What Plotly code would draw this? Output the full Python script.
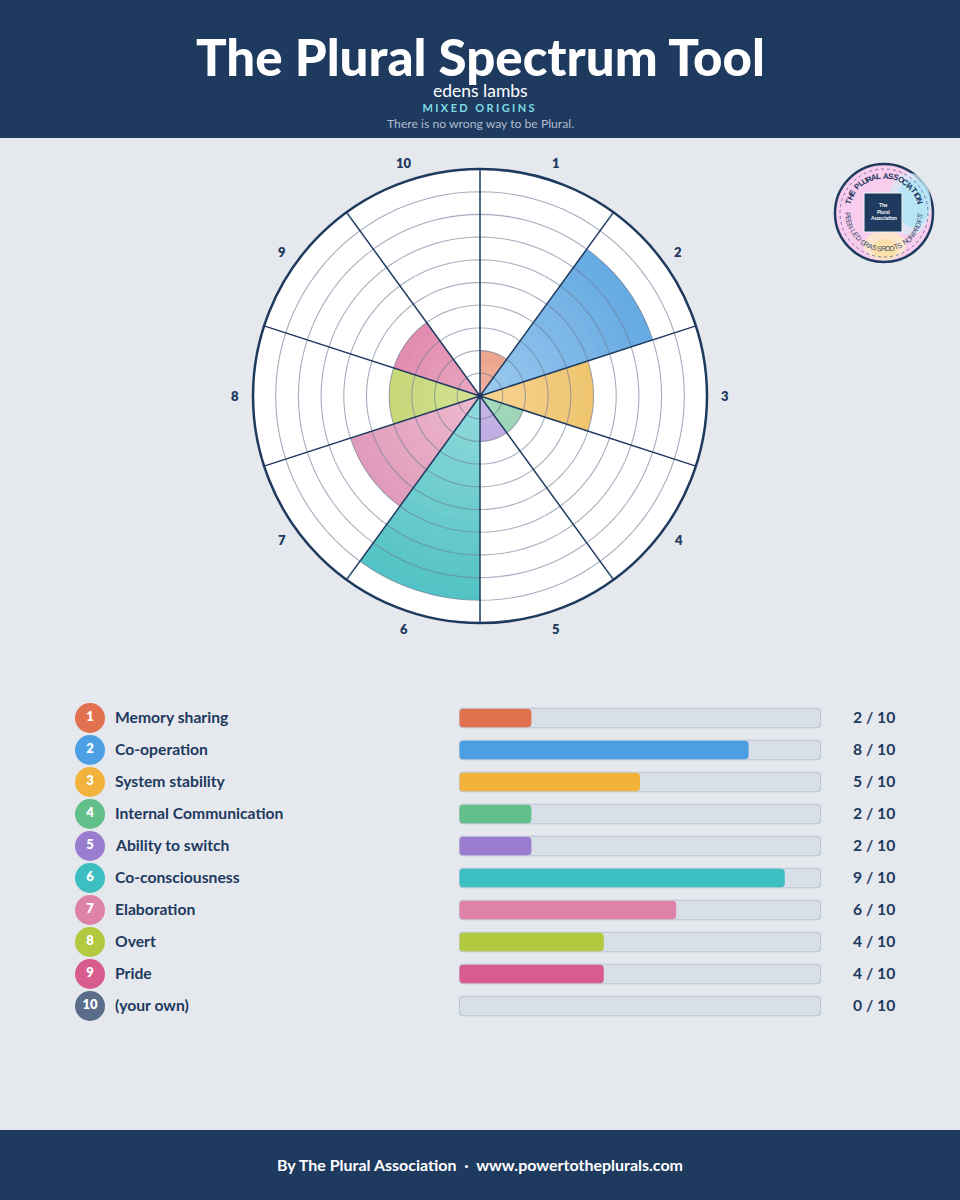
import math

import plotly.graph_objects as go

W, H = 960, 1200
NAVY = "#1E3A5F"
BG = "#E5E8ED"
TRACK = "#D8DFE8"
TRACK_LINE = "#B9C6D6"
RING = "rgba(110,125,150,0.62)"
FONT = "Lato"

# Data
numbers = ["1", "2", "3", "4", "5", "6", "7", "8", "9", "10"]
names = [
    "Memory sharing",
    "Co-operation",
    "System stability",
    "Internal Communication",
    "Ability to switch",
    "Co-consciousness",
    "Elaboration",
    "Overt",
    "Pride",
    "(your own)",
]
scores = [2, 8, 5, 2, 2, 9, 6, 4, 4, 0]
colors = [
    (226, 113, 79),
    (76, 159, 226),
    (242, 179, 61),
    (98, 191, 138),
    (155, 125, 207),
    (61, 191, 193),
    (222, 130, 168),
    (179, 201, 63),
    (217, 92, 143),
    (90, 110, 140),
]
score_max = 10
sector_width = 360 / len(names)
sector_centers = [sector_width * (i + 0.5) for i in range(len(names))]
spoke_angles = [sector_width * i for i in range(len(names))]
ring_values = list(range(1, score_max))
ring_thetas = list(range(0, 361, 3))


def hex_rgb(c):
    return "rgb(%d,%d,%d)" % c


def px_x(x):
    return x / W


def px_y(y):
    return 1 - y / H


def rect(x0, y0, x1, y1, fill, line=None, width=0, kind="rect", opacity=1, dash="solid"):
    return dict(
        type=kind,
        xref="paper",
        yref="paper",
        x0=px_x(x0),
        x1=px_x(x1),
        y0=px_y(y0),
        y1=px_y(y1),
        fillcolor=fill,
        line=dict(color=line or "rgba(0,0,0,0)", width=width, dash=dash),
        opacity=opacity,
        layer="below",
    )


def text(x, y, s, size, color=NAVY, weight=400, anchor="center", family=FONT, angle=0):
    return dict(
        xref="paper",
        yref="paper",
        x=px_x(x),
        y=px_y(y),
        text=s,
        showarrow=False,
        xanchor=anchor,
        yanchor="middle",
        textangle=angle,
        font=dict(family=family, size=size, color=color, weight=weight),
    )


fig = go.Figure()


# alpha wanted at a given radius, the wedge gets darker going out
def wedge_alpha(r):
    return 0.56 + 0.036 * r


# Wedges: nested annuli, each one adds a little colour (strips side by side leave seams)
step = 0.5
depth = 0.0
while depth < max(scores):
    idx = [i for i, s in enumerate(scores) if s > depth]
    if depth == 0:
        a = wedge_alpha(0)
    else:
        a = 1 - (1 - wedge_alpha(depth)) / (1 - wedge_alpha(depth - step))
    fig.add_trace(
        go.Barpolar(
            r=[scores[i] - depth for i in idx],
            base=[depth] * len(idx),
            theta=[sector_centers[i] for i in idx],
            width=[sector_width] * len(idx),
            marker=dict(
                color=["rgba(%d,%d,%d,%.4f)" % (*colors[i], a) for i in idx],
                line=dict(width=0),
            ),
            hoverinfo="skip",
            showlegend=False,
        )
    )
    depth += step

# Rings and spokes sit over the wedges
for v in ring_values:
    fig.add_trace(
        go.Scatterpolar(
            r=[v] * len(ring_thetas),
            theta=ring_thetas,
            mode="lines",
            line=dict(color=RING, width=1.1),
            hoverinfo="skip",
            showlegend=False,
        )
    )
for a in spoke_angles:
    fig.add_trace(
        go.Scatterpolar(
            r=[0, score_max],
            theta=[a, a],
            mode="lines",
            line=dict(color=NAVY, width=1.5),
            hoverinfo="skip",
            showlegend=False,
        )
    )
fig.add_trace(
    go.Scatterpolar(
        r=[0],
        theta=[0],
        mode="markers",
        marker=dict(color=NAVY, size=6),
        hoverinfo="skip",
        showlegend=False,
    )
)

# Bars. A bar given a base gets all four corners rounded
unit_px = (821 - 459) / score_max
edge = 1 / unit_px


def add_pill(start, ends, width, bar_colors):
    keep = [i for i, e in enumerate(ends) if e > start]
    fig.add_trace(
        go.Bar(
            x=[ends[i] - start for i in keep],
            base=[start] * len(keep),
            y=[names[i] for i in keep],
            orientation="h",
            width=width,
            marker=dict(color=[bar_colors[i] for i in keep], line=dict(width=0)),
            hoverinfo="skip",
            showlegend=False,
        )
    )


add_pill(0, [score_max] * len(names), 0.64, [TRACK_LINE] * len(names))
add_pill(edge, [score_max - edge] * len(names), 0.58, [TRACK] * len(names))
add_pill(edge * 0.5, scores, 0.58, [hex_rgb(c) for c in colors])

# Numbered circles in their own narrow axis
fig.add_trace(
    go.Scatter(
        x=[0] * len(names),
        y=names,
        xaxis="x2",
        mode="markers+text",
        marker=dict(color=[hex_rgb(c) for c in colors], size=30),
        text=numbers,
        textposition="middle center",
        textfont=dict(family=FONT, size=13, color="white", weight=800),
        cliponaxis=False,
        hoverinfo="skip",
        showlegend=False,
    )
)

shapes = [
    rect(0, 0, W, 138, NAVY),
    rect(0, 1130, W, H, NAVY),
]
annotations = [
    text(480, 57, "The Plural Spectrum Tool", 51, "white", 900),
    text(480, 91, "edens lambs", 17.5, "white", 400),
    text(479.5, 108, "MIXED ORIGINS", 11, "#7FDDE6", 700),
    text(480, 124, "There is no wrong way to be Plural.", 12.2, "#B0BCCD", 400),
    text(480, 1164, "By The Plural Association  ·  www.powertotheplurals.com", 16, "white", 700),
]

# Sector numbers round the rim (points beyond the radial range get dropped by polar traces)
cx, cy, label_px = 480, 396, 245
for n, deg in zip(numbers, sector_centers):
    t = math.radians(deg)
    annotations.append(text(cx + label_px * math.sin(t), cy - label_px * math.cos(t), n, 13, NAVY, 800))

for name, score in zip(names, scores):
    annotations.append(
        dict(
            xref="paper",
            yref="y",
            x=px_x(113),
            y=name,
            text=name,
            showarrow=False,
            xanchor="left",
            yshift=1,
            font=dict(family=FONT, size=15.7, color=NAVY, weight=700),
        )
    )
    annotations.append(
        dict(
            xref="paper",
            yref="y",
            x=px_x(897),
            y=name,
            text="%d / %d" % (score, score_max),
            showarrow=False,
            xanchor="right",
            yshift=1,
            font=dict(family=FONT, size=15.7, color=NAVY, weight=700),
        )
    )

# Badge in the corner
bx, by, br = 884, 213, 49
shapes += [
    rect(bx - br, by - br, bx + br, by + br, "#F9CDEE", NAVY, 2.5, "circle"),
    rect(bx + 4, by - 40, bx + 47, by + 22, "#D4EEF8", None, 0, "circle", 0.7),
    rect(bx + 12, by - 34, bx + 46, by + 14, "#A6E6F5", None, 0, "circle", 0.7),
    rect(bx - 20, by + 18, bx + 22, by + 47, "#FBEBC4", None, 0, "circle", 0.8),
    rect(bx - 12, by + 26, bx + 14, by + 46, "#FBE0A0", None, 0, "circle", 0.8),
    rect(bx - 44, by - 44, bx + 44, by + 44, "rgba(0,0,0,0)", "#6F6AA8", 0.9, "circle", 1, "dot"),
    rect(bx - 20, by - 20, bx + 18, by + 19, NAVY, "#F2F4F7", 1),
]
for i, s in enumerate(["The", "Plural", "Association"]):
    annotations.append(text(bx - 1, by - 8 + i * 6.5, s, 5, "white", 700))


# Curved badge text: one annotation per letter, spaced by a rough letter width
def char_steps(s):
    narrow = {"I": 0.45, "L": 0.8, " ": 0.55, "-": 0.55, "E": 0.9, "T": 0.9}
    w = [narrow.get(ch, 1.0) for ch in s]
    total = sum(w) - (w[0] + w[-1]) / 2
    out = []
    run = 0.0
    for i in range(len(s)):
        out.append(run / total)
        if i + 1 < len(s):
            run += (w[i] + w[i + 1]) / 2
    return out


top_text = "THE PLURAL ASSOCIATION"
for ch, f in zip(top_text, char_steps(top_text)):
    a = math.radians(-72 + 144 * f)
    annotations.append(
        text(bx + 37 * math.sin(a), by - 37 * math.cos(a), ch, 8, NAVY, 700, angle=math.degrees(a), family="Liberation Sans")
    )
bottom_text = "PEER-LED GRASSROOTS NONPROFIT"
for ch, f in zip(bottom_text, char_steps(bottom_text)):
    a = math.radians(-88 + 176 * f)
    annotations.append(
        text(bx + 36 * math.sin(a), by + 36 * math.cos(a), ch, 7, "#3A4A6B", 400, angle=-math.degrees(a), family="Liberation Sans")
    )

fig.update_layout(
    width=W,
    height=H,
    margin=dict(l=0, r=0, t=0, b=0),
    paper_bgcolor=BG,
    plot_bgcolor="rgba(0,0,0,0)",
    barmode="overlay",
    barcornerradius=4,
    hovermode=False,
    shapes=shapes,
    annotations=annotations,
    polar=dict(
        domain=dict(x=[px_x(253), px_x(707)], y=[px_y(623), px_y(169)]),
        bgcolor="white",
        barmode="overlay",
        angularaxis=dict(
            direction="clockwise",
            rotation=90,
            showgrid=False,
            showticklabels=False,
            ticks="",
            showline=True,
            linecolor=NAVY,
            linewidth=2.5,
        ),
        radialaxis=dict(
            range=[0, score_max],
            showgrid=False,
            showticklabels=False,
            ticks="",
            showline=False,
        ),
    ),
    xaxis=dict(
        domain=[px_x(459), px_x(821)],
        range=[0, score_max],
        visible=False,
        fixedrange=True,
    ),
    xaxis2=dict(
        domain=[px_x(75), px_x(105)],
        range=[-1, 1],
        visible=False,
        anchor="y",
        fixedrange=True,
    ),
    yaxis=dict(
        domain=[px_y(1022), px_y(702)],
        categoryorder="array",
        categoryarray=names,
        range=[len(names) - 0.5, -0.5],
        visible=False,
        fixedrange=True,
    ),
)

# Page margin off, tracking on the small caps line (plotly has no letter-spacing option)
post = """
document.body.style.margin = '0';
document.querySelectorAll('.annotation-text').forEach(function (t) {
  if (t.textContent === 'MIXED ORIGINS') { t.style.letterSpacing = '2.4px'; }
});
"""
fig.write_html("out.html", post_script=post, config=dict(displayModeBar=False))
